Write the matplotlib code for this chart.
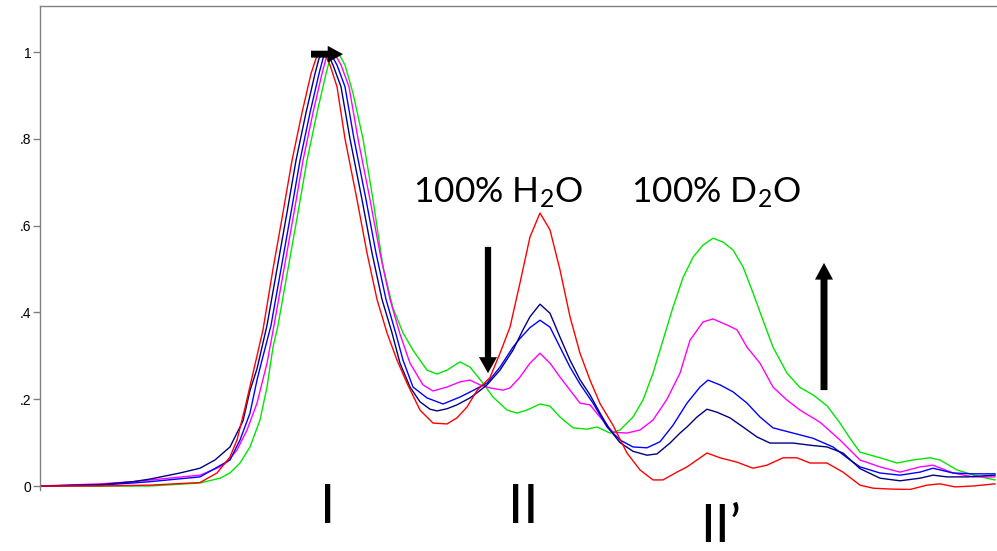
import matplotlib
matplotlib.use("Agg")
import matplotlib.pyplot as plt

plt.rcParams["mathtext.fontset"] = "custom"
plt.rcParams["mathtext.rm"] = "Lato"
plt.rcParams["mathtext.it"] = "Lato"

# elution position (arbitrary units) and normalised absorbance for each trace
x_red = [40, 100, 150, 200, 217, 230, 237, 245, 253, 263, 273, 283, 292, 302, 311, 316, 320, 325, 330,
         337, 345, 357, 367, 377, 387, 397, 407, 420, 433, 447, 457, 467, 477, 490, 500, 510, 520, 530,
         540, 550, 560, 570, 580, 590, 600, 613, 627, 640, 653, 663, 677, 687, 697, 707, 720, 737, 753,
         767, 783, 797, 810, 827, 843, 860, 873, 890, 910, 927, 940, 955, 973, 995]
y_red = [0, 0, 0.002, 0.008, 0.03, 0.067, 0.106, 0.18, 0.26, 0.36, 0.50, 0.63, 0.75, 0.86, 0.95, 0.985,
         1.0, 0.995, 0.97, 0.92, 0.80, 0.66, 0.537, 0.43, 0.353, 0.29, 0.237, 0.175, 0.145, 0.143, 0.157,
         0.182, 0.22, 0.25, 0.306, 0.366, 0.468, 0.574, 0.629, 0.59, 0.498, 0.39, 0.306, 0.244, 0.19,
         0.14, 0.076, 0.037, 0.014, 0.014, 0.032, 0.044, 0.06, 0.076, 0.065, 0.055, 0.041, 0.048, 0.065,
         0.065, 0.053, 0.053, 0.032, 0.002, -0.005, -0.007, -0.008, 0.002, 0.005, -0.002, 0.0, 0.005]

x_navy = [40, 100, 133, 150, 180, 200, 215, 230, 243, 250, 257, 267, 277, 287, 296, 306, 315, 319, 323,
          328, 333, 341, 350, 362, 372, 382, 392, 400, 410, 420, 430, 437, 447, 457, 470, 480, 487, 500,
          513, 523, 530, 540, 550, 560, 570, 580, 590, 600, 610, 620, 633, 647, 657, 670, 680, 687, 697,
          707, 717, 730, 743, 757, 770, 793, 810, 827, 843, 860, 880, 900, 920, 933, 947, 967, 995]
y_navy = [0, 0.003, 0.01, 0.016, 0.03, 0.041, 0.06, 0.09, 0.15, 0.22, 0.27, 0.37, 0.50, 0.63, 0.75,
          0.86, 0.95, 0.985, 1.0, 0.995, 0.97, 0.92, 0.80, 0.66, 0.537, 0.43, 0.353, 0.283, 0.228, 0.194,
          0.177, 0.173, 0.178, 0.187, 0.203, 0.22, 0.233, 0.267, 0.313, 0.36, 0.39, 0.419, 0.398, 0.343,
          0.29, 0.245, 0.21, 0.168, 0.129, 0.1, 0.08, 0.071, 0.074, 0.099, 0.122, 0.136, 0.159, 0.177,
          0.17, 0.157, 0.136, 0.113, 0.099, 0.099, 0.094, 0.09, 0.076, 0.04, 0.018, 0.012, 0.018, 0.025,
          0.021, 0.021, 0.025]

x_blue = [40, 100, 133, 150, 200, 230, 240, 250, 257, 262, 271, 281, 291, 300, 310, 319, 323, 326, 331,
          337, 345, 354, 366, 376, 386, 396, 403, 413, 427, 443, 460, 473, 487, 500, 513, 520, 530, 540,
          550, 560, 570, 580, 593, 607, 620, 633, 647, 660, 673, 687, 700, 708, 720, 733, 747, 760, 773,
          793, 813, 833, 850, 860, 880, 900, 920, 933, 953, 973, 995]
y_blue = [0, 0.002, 0.007, 0.01, 0.021, 0.06, 0.106, 0.168, 0.244, 0.29, 0.37, 0.50, 0.63, 0.75, 0.86,
          0.95, 0.985, 1.0, 0.995, 0.97, 0.92, 0.80, 0.66, 0.537, 0.43, 0.35, 0.29, 0.228, 0.203, 0.189,
          0.205, 0.22, 0.237, 0.274, 0.32, 0.34, 0.365, 0.382, 0.366, 0.32, 0.274, 0.235, 0.191, 0.136,
          0.106, 0.09, 0.088, 0.102, 0.14, 0.191, 0.228, 0.244, 0.233, 0.217, 0.191, 0.159, 0.134, 0.122,
          0.11, 0.09, 0.06, 0.044, 0.03, 0.025, 0.032, 0.041, 0.03, 0.028, 0.028]

x_magenta = [40, 100, 133, 200, 220, 227, 237, 247, 257, 267, 274, 284, 294, 303, 313, 322, 326, 330,
             335, 341, 349, 358, 370, 380, 390, 400, 410, 423, 433, 447, 460, 470, 480, 490, 503, 510, 520,
             530, 540, 550, 560, 570, 580, 590, 600, 613, 627, 640, 653, 667, 680, 690, 703, 713, 727, 737,
             747, 760, 773, 787, 800, 820, 840, 860, 880, 900, 920, 933, 953, 973, 995]
y_magenta = [0, 0.005, 0.01, 0.025, 0.044, 0.055, 0.083, 0.129, 0.191, 0.283, 0.37, 0.50, 0.63, 0.75,
             0.86, 0.95, 0.985, 1.0, 0.995, 0.97, 0.92, 0.80, 0.66, 0.537, 0.43, 0.35, 0.283, 0.233, 0.219,
             0.228, 0.24, 0.244, 0.233, 0.226, 0.221, 0.226, 0.251, 0.283, 0.306, 0.283, 0.251, 0.221,
             0.191, 0.187, 0.159, 0.124, 0.122, 0.129, 0.152, 0.2, 0.26, 0.336, 0.378, 0.385, 0.371, 0.36,
             0.32, 0.283, 0.228, 0.198, 0.175, 0.147, 0.106, 0.06, 0.044, 0.032, 0.044, 0.048, 0.03, 0.021,
             0.021]

x_green = [40, 150, 200, 220, 230, 240, 250, 260, 267, 273, 278, 288, 298, 307, 317, 326, 330, 334, 339,
           345, 353, 363, 373, 383, 393, 403, 413, 420, 427, 437, 447, 460, 470, 483, 493, 507, 517, 527,
           540, 550, 560, 573, 587, 597, 610, 620, 633, 643, 653, 663, 673, 683, 693, 703, 713, 723, 733,
           743, 753, 763, 773, 787, 800, 813, 827, 840, 850, 860, 880, 897, 913, 930, 940, 957, 977, 995]
y_green = [0, 0, 0.007, 0.018, 0.03, 0.053, 0.09, 0.152, 0.228, 0.32, 0.37, 0.50, 0.63, 0.75, 0.86, 0.95,
           0.985, 1.0, 0.995, 0.97, 0.905, 0.8, 0.66, 0.505, 0.41, 0.353, 0.313, 0.29, 0.267, 0.258,
           0.267, 0.286, 0.274, 0.237, 0.205, 0.175, 0.168, 0.175, 0.189, 0.184, 0.159, 0.134, 0.131,
           0.136, 0.122, 0.129, 0.159, 0.198, 0.26, 0.336, 0.412, 0.48, 0.527, 0.555, 0.571, 0.562, 0.544,
           0.505, 0.445, 0.382, 0.32, 0.26, 0.227, 0.21, 0.185, 0.145, 0.11, 0.078, 0.065, 0.053, 0.06,
           0.065, 0.06, 0.037, 0.023, 0.014]

y_ticks = [0, 0.2, 0.4, 0.6, 0.8, 1.0]
y_tick_labels = ["0", ".2", ".4", ".6", ".8", "1"]

fig = plt.figure(figsize=(9.97, 5.51), dpi=100)
ax = fig.add_axes([40 / 997, 61 / 551, 957 / 997, 484 / 551])

lw = 1.0
ax.plot(x_green, y_green, color="#00E600", lw=lw)
ax.plot(x_magenta, y_magenta, color="#FF00FF", lw=lw)
ax.plot(x_blue, y_blue, color="#0000FF", lw=lw)
ax.plot(x_navy, y_navy, color="#000080", lw=lw)
ax.plot(x_red, y_red, color="#FF0000", lw=lw)

ax.set_xlim(40, 997)
ax.set_ylim(-0.0092, 1.106)

for side in ["right", "bottom"]:
    ax.spines[side].set_visible(False)
for side in ["left", "top"]:
    ax.spines[side].set_color("#808080")
    ax.spines[side].set_linewidth(1.0)

ax.set_xticks([])
ax.set_yticks(y_ticks)
ax.set_yticklabels(y_tick_labels, fontfamily="Liberation Sans", fontsize=10)
ax.tick_params(axis="y", length=5, width=1, color="#808080", pad=1)

# arrows
ax.annotate("", xy=(343, 0.995), xytext=(311, 0.995),
            arrowprops=dict(facecolor="black", edgecolor="none", width=5, headwidth=12, headlength=11))
ax.annotate("", xy=(488, 0.26), xytext=(488, 0.551),
            arrowprops=dict(facecolor="black", edgecolor="none", width=4.5, headwidth=13, headlength=11.5))
ax.annotate("", xy=(824, 0.514), xytext=(824, 0.221),
            arrowprops=dict(facecolor="black", edgecolor="none", width=5, headwidth=13, headlength=12))

# labels
txt = dict(fontfamily="Lato", color="black", ha="center", va="baseline", clip_on=False)
ax.text(498, 0.654, r"100% H$_\mathrm{2}$O", fontsize=25.5, **txt)
ax.text(716, 0.654, r"100% D$_\mathrm{2}$O", fontsize=25.5, **txt)
ax.text(328, -0.085, "I", fontsize=39, **txt)
ax.text(523, -0.085, "II", fontsize=39, **txt)
ax.text(721, -0.128, "II\u2019", fontsize=38, **txt)

fig.savefig("out.png", dpi=100)
